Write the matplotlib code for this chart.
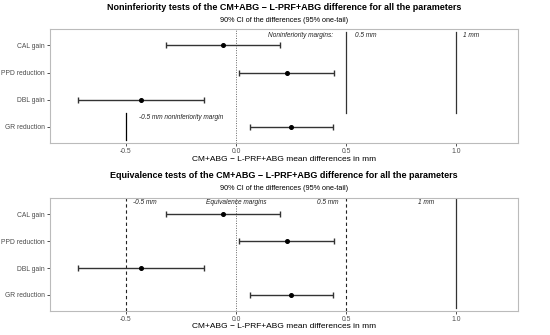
import matplotlib
matplotlib.use('Agg')
import matplotlib.pyplot as plt

plt.rcParams['font.family'] = ['Liberation Sans', 'DejaVu Sans']

# data
params = ['CAL gain', 'PPD reduction', 'DBL gain', 'GR reduction']
means = [-0.06, 0.23, -0.43, 0.25]
lower = [-0.32, 0.015, -0.72, 0.065]
upper = [0.20, 0.445, -0.145, 0.44]
xticks = [-0.5, 0.0, 0.5, 1.0]

title1 = 'Noninferiority tests of the CM+ABG \u2212 L-PRF+ABG difference for all the parameters'
title2 = 'Equivalence tests of the CM+ABG \u2212 L-PRF+ABG difference for all the parameters'
subtitle = '90% CI of the differences (95% one-tail)'
xlab = 'CM+ABG \u2212 L-PRF+ABG mean differences in mm'

fig = plt.figure(figsize=(5.5, 3.35), dpi=100)
ax1 = fig.add_axes([0.0909, 0.573, 0.851, 0.340])
ax2 = fig.add_axes([0.0909, 0.0716, 0.851, 0.337])

ypos = [4, 3, 2, 1]


def base(ax, title, tit_y, sub_y, lpad):
    ax.axvline(0, color='#666666', lw=0.7, ls=(0, (1, 1.5)), zorder=1)
    for y, m, lo, hi in zip(ypos, means, lower, upper):
        ax.errorbar(m, y, xerr=[[m - lo], [hi - m]], fmt='o', color='black',
                    ecolor='#333333', elinewidth=1.0, capsize=2.0, capthick=1.0,
                    markersize=2.6, zorder=3)
    ax.set_xlim(-0.845, 1.28)
    ax.set_ylim(0.4, 4.6)
    ax.set_yticks(ypos)
    ax.set_yticklabels(params)
    ax.set_xticks(xticks)
    ax.set_xticklabels(['-0.5', '0.0', '0.5', '1.0'])
    ax.tick_params(colors='#333333', labelcolor='#4d4d4d', labelsize=4.9,
                   length=2.2, width=0.6, pad=1.5)
    for s in ax.spines.values():
        s.set_color('#bbbbbb')
        s.set_linewidth(0.8)
    ax.set_xlabel(xlab, fontsize=6.0, labelpad=lpad, color='black')
    fig.text(0.516, tit_y, title, ha='center', va='center', fontsize=6.5,
             fontweight='bold')
    fig.text(0.516, sub_y, subtitle, ha='center', va='center', fontsize=5.2)


base(ax1, title1, 1 - 8 / 335, 1 - 20 / 335, 0.8)
base(ax2, title2, 1 - 176 / 335, 1 - 188 / 335, 0.0)

# noninferiority panel
ax1.plot([0.5, 0.5], [1.5, 4.5], color='#333333', lw=0.9)
ax1.plot([1.0, 1.0], [1.5, 4.5], color='#333333', lw=0.9)
ax1.plot([-0.5, -0.5], [0.5, 1.5], color='black', lw=0.9)
tk = dict(fontsize=4.7, style='italic', color='#222222', va='top')
ax1.text(0.44, 4.5, 'Noninferiority margins:', ha='right', **tk)
ax1.text(0.54, 4.5, '0.5 mm', ha='left', **tk)
ax1.text(1.03, 4.5, '1 mm', ha='left', **tk)
ax1.text(-0.44, 1.46, '-0.5 mm noninferiority margin', ha='left', **tk)

# equivalence panel
ax2.axvline(-0.5, color='#222222', lw=0.8, ls=(0, (3, 2.5)))
ax2.axvline(0.5, color='#222222', lw=0.8, ls=(0, (3, 2.5)))
ax2.plot([1.0, 1.0], [0.5, 4.55], color='#333333', lw=0.9)
ax2.text(-0.47, 4.55, '-0.5 mm', ha='left', **tk)
ax2.text(0.0, 4.55, 'Equivalence margins', ha='center', **tk)
ax2.text(0.465, 4.55, '0.5 mm', ha='right', **tk)
ax2.text(0.9, 4.55, '1 mm', ha='right', **tk)

fig.savefig('out.png', dpi=100)
